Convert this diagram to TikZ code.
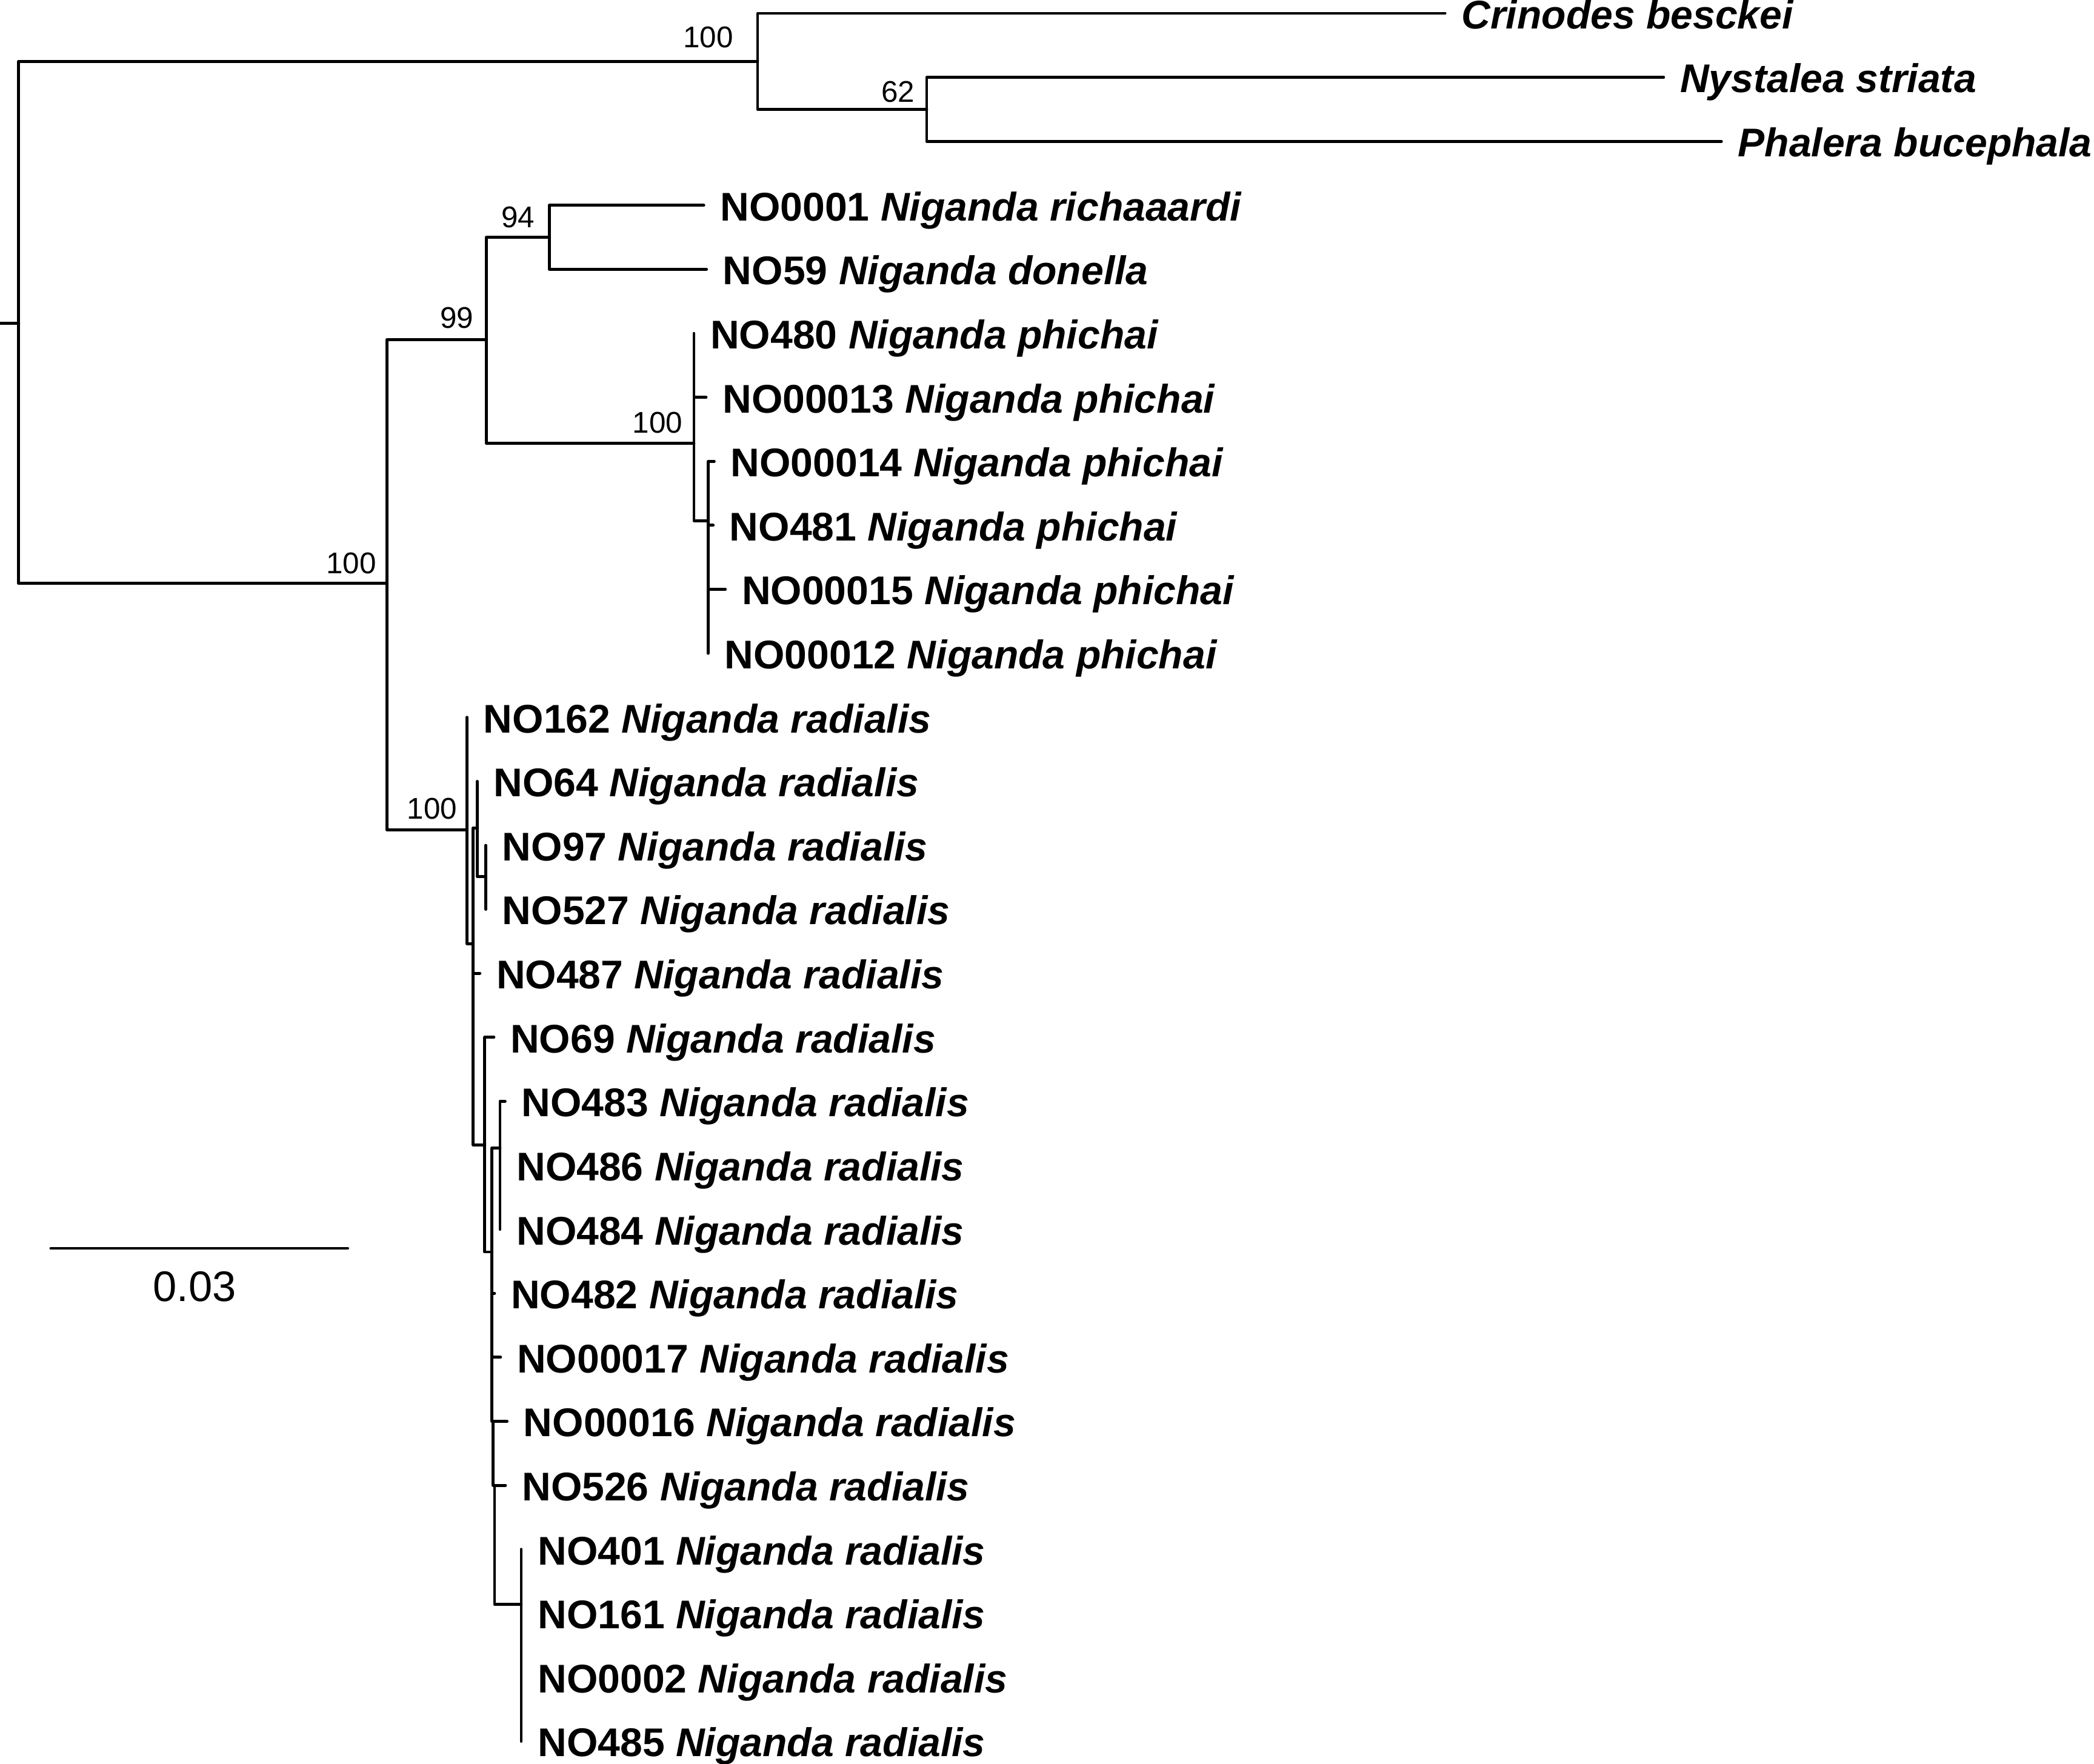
\documentclass[tikz,border=0pt]{standalone}
\usepackage{fontspec}
\setmainfont{Liberation Sans}
\begin{document}
\begin{tikzpicture}[x=0.5pt, y=-0.5pt,
  br/.style={line width=1.1pt, line cap=round, line join=round},
  tax/.style={anchor=base west, inner sep=0pt, xshift=6pt, yshift=-5.75pt, font=\fontsize{15.0}{18}\selectfont\bfseries},
  bsup/.style={anchor=base east, inner sep=0pt, font=\fontsize{11.2}{13}\selectfont},
  scl/.style={anchor=base, inner sep=0pt, font=\fontsize{16}{19}\selectfont}]
\useasboundingbox (0,0) rectangle (1568,1321);
% internal nodes (x, entry y)
\coordinate (rs) at (0,242.3);
\coordinate (R) at (14,242.3);
\coordinate (O) at (567.3,46);
\coordinate (O62) at (693.9,81.9);
\coordinate (I) at (289.8,437);
\coordinate (N99) at (364.3,254.4);
\coordinate (N94) at (411.3,177.7);
\coordinate (PHI) at (519.6,332.1);
\coordinate (PS) at (530.2,389.9);
\coordinate (V1) at (349.7,621.6);
\coordinate (V2) at (354.4,706.7);
\coordinate (V3) at (357.3,620);
\coordinate (V4) at (363.8,656.4);
\coordinate (V5) at (363,857.4);
\coordinate (V7) at (368.3,937.6);
\coordinate (V6) at (374.4,859.8);
\coordinate (V7b) at (369.3,1064.5);
\coordinate (V7c) at (370.3,1112.4);
\coordinate (V9) at (390.3,1201.5);
% tips
\coordinate (tCri) at (1082,10);
\coordinate (tNys) at (1245.7,57.9);
\coordinate (tPha) at (1289,105.9);
\coordinate (t0001) at (527,153.8);
\coordinate (t59) at (529,201.7);
\coordinate (t480) at (519.6,249.7);
\coordinate (t00013) at (528.7,297.6);
\coordinate (t00014) at (534.8,345.5);
\coordinate (t481) at (534,393.4);
\coordinate (t00015) at (543.1,441.4);
\coordinate (t00012) at (530.2,489.3);
\coordinate (t162) at (349.7,537.2);
\coordinate (t64) at (357.3,585.2);
\coordinate (t97) at (363.8,633.1);
\coordinate (t527) at (363.8,681);
\coordinate (t487) at (359.3,728.9);
\coordinate (t69) at (369.8,776.9);
\coordinate (t483) at (378.2,824.8);
\coordinate (t486) at (374.4,872.7);
\coordinate (t484) at (374.4,920.7);
\coordinate (t482) at (370.3,968.6);
\coordinate (t00017) at (374.8,1016.5);
\coordinate (t00016) at (379.7,1064.5);
\coordinate (t526) at (378.5,1112.4);
\coordinate (t401) at (390.3,1160.3);
\coordinate (t161) at (390.3,1208.3);
\coordinate (t0002) at (390.3,1256.2);
\coordinate (t485) at (390.3,1304.1);
% branches
\draw[br] (rs) -- (R);
\draw[br] (R) |- (O);
\draw[br] (R) |- (I);
\draw[br] (O) |- (tCri);
\draw[br] (O) |- (O62);
\draw[br] (O62) |- (tNys);
\draw[br] (O62) |- (tPha);
\draw[br] (I) |- (N99);
\draw[br] (I) |- (V1);
\draw[br] (N99) |- (N94);
\draw[br] (N99) |- (PHI);
\draw[br] (N94) |- (t0001);
\draw[br] (N94) |- (t59);
\draw[br] (PHI) |- (t480);
\draw[br] (PHI) |- (t00013);
\draw[br] (PHI) |- (PS);
\draw[br] (PS) |- (t00014);
\draw[br] (PS) |- (t481);
\draw[br] (PS) |- (t00015);
\draw[br] (PS) |- (t00012);
\draw[br] (V1) |- (t162);
\draw[br] (V1) |- (V2);
\draw[br] (V2) |- (V3);
\draw[br] (V2) |- (t487);
\draw[br] (V2) |- (V5);
\draw[br] (V3) |- (t64);
\draw[br] (V3) |- (V4);
\draw[br] (V4) |- (t97);
\draw[br] (V4) |- (t527);
\draw[br] (V5) |- (t69);
\draw[br] (V5) |- (V7);
\draw[br] (V7) |- (V6);
\draw[br] (V7) |- (t482);
\draw[br] (V7) |- (t00017);
\draw[br] (V7) |- (V7b);
\draw[br] (V6) |- (t483);
\draw[br] (V6) |- (t486);
\draw[br] (V6) |- (t484);
\draw[br] (V7b) |- (t00016);
\draw[br] (V7b) |- (V7c);
\draw[br] (V7c) |- (t526);
\draw[br] (V7c) |- (V9);
\draw[br] (V9) |- (t401);
\draw[br] (V9) |- (t161);
\draw[br] (V9) |- (t0002);
\draw[br] (V9) |- (t485);
% taxon labels
\node[tax] (lCri) at (tCri) {\textit{Crinodes besckei}};
\node[tax] (lNys) at (tNys) {\textit{Nystalea striata}};
\node[tax] (lPha) at (tPha) {\textit{Phalera bucephala}};
\node[tax] (l0001) at (t0001) {NO0001 \textit{Niganda richaaardi}};
\node[tax] (l59) at (t59) {NO59 \textit{Niganda donella}};
\node[tax] (l480) at (t480) {NO480 \textit{Niganda phichai}};
\node[tax] (l00013) at (t00013) {NO00013 \textit{Niganda phichai}};
\node[tax] (l00014) at (t00014) {NO00014 \textit{Niganda phichai}};
\node[tax] (l481) at (t481) {NO481 \textit{Niganda phichai}};
\node[tax] (l00015) at (t00015) {NO00015 \textit{Niganda phichai}};
\node[tax] (l00012) at (t00012) {NO00012 \textit{Niganda phichai}};
\node[tax] (l162) at (t162) {NO162 \textit{Niganda radialis}};
\node[tax] (l64) at (t64) {NO64 \textit{Niganda radialis}};
\node[tax] (l97) at (t97) {NO97 \textit{Niganda radialis}};
\node[tax] (l527) at (t527) {NO527 \textit{Niganda radialis}};
\node[tax] (l487) at (t487) {NO487 \textit{Niganda radialis}};
\node[tax] (l69) at (t69) {NO69 \textit{Niganda radialis}};
\node[tax] (l483) at (t483) {NO483 \textit{Niganda radialis}};
\node[tax] (l486) at (t486) {NO486 \textit{Niganda radialis}};
\node[tax] (l484) at (t484) {NO484 \textit{Niganda radialis}};
\node[tax] (l482) at (t482) {NO482 \textit{Niganda radialis}};
\node[tax] (l00017) at (t00017) {NO00017 \textit{Niganda radialis}};
\node[tax] (l00016) at (t00016) {NO00016 \textit{Niganda radialis}};
\node[tax] (l526) at (t526) {NO526 \textit{Niganda radialis}};
\node[tax] (l401) at (t401) {NO401 \textit{Niganda radialis}};
\node[tax] (l161) at (t161) {NO161 \textit{Niganda radialis}};
\node[tax] (l0002) at (t0002) {NO0002 \textit{Niganda radialis}};
\node[tax] (l485) at (t485) {NO485 \textit{Niganda radialis}};
% support values
\node[bsup] (s1) at (549.4,35.6) {100};
\node[bsup] (s2) at (685.3,76.3) {62};
\node[bsup] (s3) at (400.8,170.2) {94};
\node[bsup] (s4) at (355,245.7) {99};
\node[bsup] (s5) at (511.5,324.4) {100};
\node[bsup] (s6) at (282,429.5) {100};
\node[bsup] (s7) at (342.6,613.5) {100};
% scale bar
\coordinate (sb1) at (38.1,934.9);
\coordinate (sb2) at (260.3,934.9);
\draw[br] (sb1) -- (sb2);
\node[scl] (sbl) at (145.7,974.6) {0.03};
\end{tikzpicture}
\end{document}
